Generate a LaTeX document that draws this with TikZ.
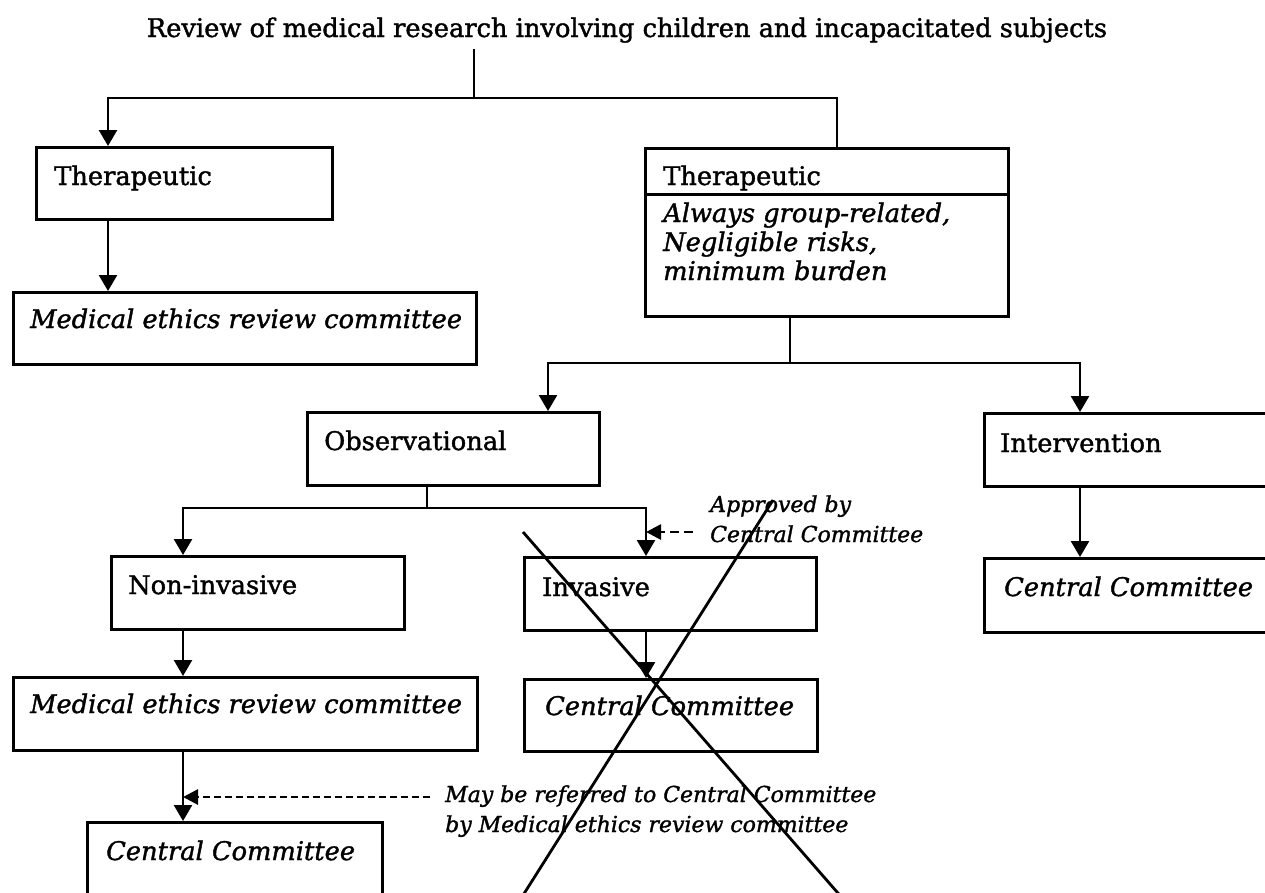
\documentclass[tikz,border=0pt]{standalone}
\usepackage{fontspec}
\setmainfont{DejaVu Serif}[FakeBold=1.4]
\usetikzlibrary{arrows.meta}
\begin{document}
\begin{tikzpicture}[x=1pt,y=-1pt,
  box/.style={draw, rectangle, line width=3pt, inner sep=0pt, anchor=north west},
  lbl/.style={anchor=base west, inner sep=0pt, font=\fontsize{25.7}{30}\selectfont},
  ilbl/.style={anchor=base west, inner sep=0pt, font=\fontsize{25.7}{30}\selectfont\itshape},
  nlbl/.style={anchor=base west, inner sep=0pt, font=\fontsize{22}{26}\selectfont\itshape},
  conn/.style={line width=2.6pt, line join=miter},
  arr/.style={conn, -{Triangle[width=18pt,length=16pt]}},
  darr/.style={line width=2.8pt, dash pattern=on 9pt off 5pt, -{Triangle[width=15pt,length=15pt]}},
  darrb/.style={line width=2.8pt, dash pattern=on 7pt off 4pt, -{Triangle[width=15pt,length=15pt]}}
]
\clip (0,0) rectangle (1265,892);
\fill[white] (0,0) rectangle (1265,892);

% title
\node[anchor=base, inner sep=0pt, font=\fontsize{25.7}{30}\selectfont] (title) at (627,37)
  {Review of medical research involving children and incapacitated subjects};

% boxes
\node[box, minimum width=296pt, minimum height=72pt] (t1) at (35,146) {};
\node[box, minimum width=463pt, minimum height=72pt] (m1) at (12,291) {};
\node[box, minimum width=363pt, minimum height=168pt] (t2) at (644,147) {};
\node[box, minimum width=292pt, minimum height=73pt] (obs) at (306,411) {};
\node[box, minimum width=300pt, minimum height=73pt] (int) at (983,412) {};
\node[box, minimum width=293pt, minimum height=73pt] (ninv) at (110,555) {};
\node[box, minimum width=292pt, minimum height=73pt] (inv) at (523,556) {};
\node[box, minimum width=300pt, minimum height=74pt] (cc1) at (983,557) {};
\node[box, minimum width=464pt, minimum height=73pt] (m2) at (12,676) {};
\node[box, minimum width=293pt, minimum height=72pt] (cc2) at (523,678) {};
\node[box, minimum width=295pt, minimum height=100pt] (cc3) at (86,821) {};
\draw[line width=3pt] ([yshift=-47pt]t2.north west) -- ([yshift=-47pt]t2.north east);

% texts
\node[lbl] (t1txt) at (54,185) {Therapeutic};
\node[ilbl] (m1txt) at (30,328) {Medical ethics review committee};
\node[lbl] (t2txt) at (663,185) {Therapeutic};
\node[ilbl] (t2a) at (663,222) {Always group-related,};
\node[ilbl] (t2b) at (663,251) {Negligible risks,};
\node[ilbl] (t2c) at (663,280) {minimum burden};
\node[lbl] (obstxt) at (324,450) {Observational};
\node[lbl] (inttxt) at (1000,452) {Intervention};
\node[lbl] (ninvtxt) at (128,594) {Non-invasive};
\node[lbl] (invtxt) at (542,596) {Invasive};
\node[ilbl] (cc1txt) at (1004,596) {Central Committee};
\node[ilbl] (m2txt) at (30,713) {Medical ethics review committee};
\node[ilbl] (cc2txt) at (545,715) {Central Committee};
\node[ilbl] (cc3txt) at (106,860) {Central Committee};
\node[nlbl] (ap1) at (710,512) {Approved by};
\node[nlbl] (ap2) at (710,542) {Central Committee};
\node[nlbl] (may1) at (445,802) {May be referred to Central Committee};
\node[nlbl] (may2) at (445,832) {by Medical ethics review committee};

% junctions
\coordinate (jt) at (474,98);
\coordinate (jL) at (108,98);
\coordinate (jR) at (837,98);
\coordinate (j2) at (790,363);
\coordinate (j2L) at (548,363);
\coordinate (j2R) at (1080,363);
\coordinate (j3) at (427,508);
\coordinate (j3L) at (183,508);
\coordinate (j3R) at (646,508);
\coordinate (a1) at (693,532);
\coordinate (a2) at (430,797);

% connectors
\draw[conn] ([yshift=-6pt]title.south -| jt) -- (jt);
\draw[arr] (t2.north -| jR) -- (jR) -- (jL) -- (t1.north -| jL);
\draw[arr] (t1.south -| jL) -- (m1.north -| jL);
\draw[conn] (t2.south -| j2) -- (j2);
\draw[arr] (j2) -- (j2L) -- (obs.north -| j2L);
\draw[arr] (j2) -- (j2R) -- (int.north -| j2R);
\draw[arr] (int.south -| j2R) -- (cc1.north -| j2R);
\draw[conn] (obs.south -| j3) -- (j3);
\draw[arr] (j3) -- (j3L) -- (ninv.north -| j3L);
\draw[arr] (j3) -- (j3R) -- (inv.north -| j3R);
\draw[arr] (ninv.south -| j3L) -- (m2.north -| j3L);
\draw[arr] (inv.south -| j3R) -- (cc2.north -| j3R);
\draw[arr] (m2.south -| j3L) -- (cc3.north -| j3L);
\draw[darr] (a1) -- (a1 -| j3R);
\draw[darrb] (a2) -- (a2 -| j3L);

% cross
\draw[line width=2.8pt] (523,532) -- (844,900);
\draw[line width=2.8pt] (520,900) -- (773,500);
\end{tikzpicture}
\end{document}
